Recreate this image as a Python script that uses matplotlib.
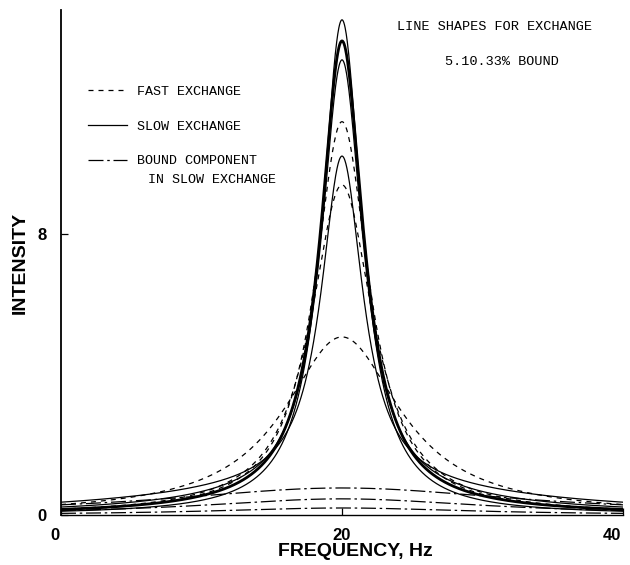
import numpy as np
import matplotlib
matplotlib.use("Agg")
import matplotlib.pyplot as plt
from matplotlib.lines import Line2D
from matplotlib.transforms import ScaledTranslation

# peak heights / half widths (Hz), lines centred at 20 Hz
center = 20.0
free_height = 14.1
free_width = 1.75

fast_height = [11.2, 9.4, 5.07]      # 5, 10, 33 % bound
fast_width = [2.35, 2.7, 5.0]

slow_height = [13.3, 12.5, 9.45]     # narrow (free) part in slow exchange
slow_width = [1.85, 1.8, 1.8]
slow_lw = [2.0, 0.9, 0.9]

bound_height = [0.2, 0.46, 0.77]     # bound component in slow exchange
bound_width = [11.0, 12.3, 15.5]

legend_labels = ["FAST EXCHANGE", "SLOW EXCHANGE", "BOUND COMPONENT"]
legend_extra = "IN SLOW EXCHANGE"
title_lines = ["LINE SHAPES FOR EXCHANGE", "5.10.33% BOUND"]


def lorentz(x, h, w):
    return h / (1 + ((x - center) / w) ** 2)


freq = np.linspace(0, 40, 1601)
mono = "Liberation Mono"
bound_ls = (0, (12, 3, 2, 3))

fig = plt.figure(figsize=(6.3, 5.65), dpi=100)
ax = fig.add_axes([61 / 630, 50 / 565, 562 / 630, 505 / 565])

ax.plot(freq, lorentz(freq, free_height, free_width), color="black", lw=0.9)
for h, w in zip(fast_height, fast_width):
    ax.plot(freq, lorentz(freq, h, w), color="black", lw=0.9, ls=(0, (4, 4)))
for h, w, lw, bh, bw in zip(slow_height, slow_width, slow_lw, bound_height, bound_width):
    ax.plot(freq, lorentz(freq, h, w) + lorentz(freq, bh, bw), color="black", lw=lw)
    ax.plot(freq, lorentz(freq, bh, bw), color="black", lw=0.9, ls=bound_ls)

ax.set_xlim(0, 40)
ax.set_ylim(0, 14.38)
ax.spines["top"].set_visible(False)
ax.spines["right"].set_visible(False)
ax.spines["left"].set_linewidth(1.3)
ax.spines["bottom"].set_linewidth(1.0)

ax.set_xticks([0, 20, 40])
ax.set_yticks([0, 8])
ax.tick_params(direction="in", length=5, width=0.9)
ax.tick_params(axis="x", pad=9.5)
ax.tick_params(axis="y", pad=10.5)
for lab in ax.get_xticklabels() + ax.get_yticklabels():
    lab.set_fontfamily("Liberation Sans")
    lab.set_fontweight("bold")
    lab.set_fontsize(12)
xlabs = ax.get_xticklabels()
xlabs[0].set_transform(xlabs[0].get_transform() + ScaledTranslation(-6 / 100, 0, fig.dpi_scale_trans))
xlabs[-1].set_horizontalalignment("right")
xlabs[-1].set_transform(xlabs[-1].get_transform() + ScaledTranslation(-2 / 100, 0, fig.dpi_scale_trans))

ax.set_xlabel("FREQUENCY, Hz", fontsize=14, fontweight="bold", family="Liberation Sans")
ax.set_ylabel("INTENSITY", fontsize=14, fontweight="bold", family="Liberation Sans")
ax.xaxis.set_label_coords(0.523, -0.056)
ax.yaxis.set_label_coords(-0.058, 0.5)

ax.text(0.772, 0.966, title_lines[0], transform=ax.transAxes, ha="center", va="center",
        family=mono, fontsize=9.7)
ax.text(0.784, 0.897, title_lines[1], transform=ax.transAxes, ha="center", va="center",
        family=mono, fontsize=9.7)

handles = [
    Line2D([], [], color="black", lw=0.9, ls=(0, (4, 4))),
    Line2D([], [], color="black", lw=0.9),
    Line2D([], [], color="black", lw=0.9, ls=bound_ls),
]
ax.legend(handles, legend_labels, loc="upper left", bbox_to_anchor=(0.048, 0.85),
          frameon=False, borderpad=0, borderaxespad=0, handlelength=2.9,
          handletextpad=0.8, labelspacing=1.67, prop={"family": mono, "size": 9.6})
ax.text((148 - 61) / 562, (515 - 180) / 505, legend_extra, transform=ax.transAxes,
        ha="left", va="center", family=mono, fontsize=9.6)

fig.savefig("out.png", dpi=100)
